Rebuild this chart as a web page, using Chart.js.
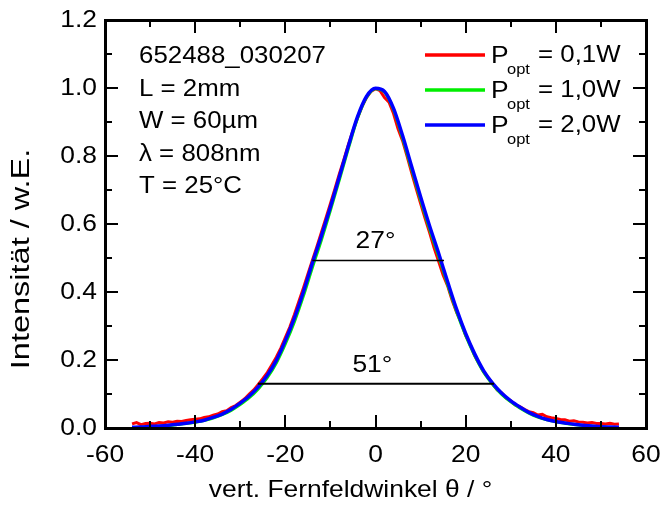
<!DOCTYPE html>
<html><head><meta charset="utf-8">
<script src="https://cdn.jsdelivr.net/npm/chart.js@4/dist/chart.umd.min.js"></script>
<style>html,body{margin:0;padding:0;background:#fff}#wrap{width:665px;height:506px;position:relative}</style>
</head><body><div id="wrap"><canvas id="c" width="665" height="506"></canvas></div>
<script>
// ---- data ----
const anglesFine = [-54,-53,-52,-51,-50,-49,-48,-47,-46,-45,-44,-43,-42,-41,-40,-39,-38,-37,-36,-35,-34,-33,-32,-31,-30,-29,-28,-27,-26,-25,-24,-23,-22,-21,-20,-19,-18,-17,-16,-15,-14,-13,-12,-11,-10,-9,-8,-7,-6,-5,-4,-3,-2,-1,0,1,2,3,4,5,6,7,8,9,10,11,12,13,14,15,16,17,18,19,20,21,22,23,24,25,26,27,28,29,30,31,32,33,34,35,36,37,38,39,40,41,42,43,44,45,46,47,48,49,50,51,52,53,54];
const red01W = [0.012,0.016,0.010,0.013,0.014,0.012,0.016,0.015,0.018,0.017,0.020,0.019,0.022,0.024,0.026,0.027,0.031,0.033,0.038,0.041,0.048,0.051,0.060,0.066,0.076,0.086,0.100,0.112,0.128,0.145,0.163,0.185,0.208,0.235,0.266,0.297,0.333,0.372,0.411,0.452,0.493,0.533,0.575,0.617,0.660,0.703,0.748,0.790,0.834,0.874,0.912,0.945,0.972,0.990,0.998,0.992,0.972,0.958,0.925,0.880,0.845,0.800,0.752,0.706,0.661,0.617,0.575,0.530,0.490,0.450,0.418,0.376,0.340,0.310,0.272,0.245,0.213,0.189,0.165,0.148,0.130,0.112,0.103,0.088,0.080,0.068,0.063,0.055,0.048,0.045,0.038,0.040,0.033,0.030,0.028,0.025,0.024,0.020,0.021,0.018,0.017,0.015,0.016,0.013,0.013,0.012,0.014,0.011,0.012];
const anglesCoarse = [-54,-52,-50,-48,-46,-44,-42,-40,-38,-36,-34,-32,-30,-28,-26,-24,-22,-20,-18,-16,-14,-12,-10,-8,-6,-4,-2,0,2,4,6,8,10,12,14,16,18,20,22,24,26,28,30,32,34,36,38,40,42,44,46,48,50,52,54];
const green10W = [0.001,0.002,0.004,0.005,0.007,0.010,0.013,0.017,0.022,0.029,0.039,0.052,0.069,0.089,0.115,0.148,0.191,0.247,0.312,0.388,0.472,0.553,0.640,0.731,0.823,0.910,0.972,0.998,0.988,0.936,0.853,0.762,0.671,0.585,0.505,0.422,0.342,0.272,0.213,0.164,0.128,0.099,0.077,0.059,0.044,0.032,0.024,0.018,0.014,0.010,0.007,0.005,0.004,0.002,0.001];
const blue20W = [0.002,0.003,0.005,0.006,0.008,0.011,0.014,0.018,0.023,0.031,0.041,0.055,0.073,0.094,0.121,0.155,0.199,0.257,0.323,0.400,0.485,0.565,0.650,0.740,0.830,0.915,0.975,0.999,0.990,0.940,0.860,0.770,0.680,0.594,0.514,0.430,0.349,0.278,0.218,0.168,0.131,0.102,0.080,0.062,0.046,0.034,0.025,0.019,0.015,0.011,0.008,0.006,0.004,0.003,0.002];
const seriesNames = ['0,1W','1,0W','2,0W'];
const seriesColors = ['#ff0000','#00ee00','#0000ff'];
const fwhmX = [-14.0, 15.2];  const fwhmY = [0.493, 0.493];
const e2X = [-26.1, 26.3];    const e2Y = [0.130, 0.130];
const widthLabels = [{x:0, y:0.55, t:'27°'}, {x:-0.7, y:0.185, t:'51°'}];
const infoLines = ['652488_030207','L = 2mm','W = 60µm','λ = 808nm','T = 25°C'];
const xTitle = 'vert. Fernfeldwinkel θ / °';
const yTitle = 'Intensität / w.E.';

const pts = (xs, ys) => xs.map((x,i)=>({x, y:ys[i]}));
const FONT = '"Liberation Sans", Arial, sans-serif';
const SX = 1.1;

function txt(ctx, s, x, y, size, align, base, sx){
  ctx.save();
  ctx.translate(x, y);
  ctx.scale(sx||SX, 1);
  ctx.font = size + 'px ' + FONT;
  ctx.textAlign = align || 'left';
  ctx.textBaseline = base || 'middle';
  ctx.fillStyle = '#000';
  ctx.fillText(s, 0, 0);
  ctx.restore();
}

const decor = {
  id: 'decor',
  afterDraw(chart){
    const ctx = chart.ctx, a = chart.chartArea;
    const xs = chart.scales.x, ys = chart.scales.y;
    const L0 = Math.round(a.left), R0 = Math.round(a.right), T0 = Math.round(a.top), B0 = Math.round(a.bottom);
    widthLabels.forEach(l => txt(ctx, l.t, xs.getPixelForValue(l.x), ys.getPixelForValue(l.y), 24, 'center', 'middle'));
    ctx.save();
    ctx.globalAlpha = 1;
    ctx.globalCompositeOperation = 'source-over';
    ctx.fillStyle = '#000000';
    // frame
    ctx.fillRect(L0 - 1, T0 - 1, R0 - L0 + 3, 3);
    ctx.fillRect(L0 - 1, B0 - 1, R0 - L0 + 3, 3);
    ctx.fillRect(L0 - 1, T0 - 1, 3, B0 - T0 + 3);
    ctx.fillRect(R0 - 1, T0 - 1, 3, B0 - T0 + 3);
    // ticks (inward, all sides)
    for (let v = -60; v <= 60; v += 10) {
      const p = Math.round(xs.getPixelForValue(v));
      const L = (v % 20 === 0) ? 13 : 7;
      ctx.fillRect(p - 1, B0 - L, 2, L);
      ctx.fillRect(p - 1, T0, 2, L);
    }
    for (let k = 0; k <= 12; k++) {
      const p = Math.round(ys.getPixelForValue(k/10));
      const L = (k % 2 === 0) ? 13 : 7;
      ctx.fillRect(L0, p - 1, L, 2);
      ctx.fillRect(R0 - L, p - 1, L, 2);
    }
    ctx.restore();
    xs.ticks.forEach(t => txt(ctx, String(t.value), xs.getPixelForValue(t.value), B0 + 27, 24, 'center', 'middle'));
    ys.ticks.forEach(t => txt(ctx, t.value.toFixed(1), L0 - 8, ys.getPixelForValue(t.value), 24, 'right', 'middle'));
    txt(ctx, xTitle, (L0 + R0)/2 - 25, 490, 24, 'center', 'middle');
    ctx.save();
    ctx.translate(22, 259);
    ctx.rotate(-Math.PI/2);
    ctx.scale(1.3, 1.0);
    ctx.font = '25px ' + FONT; ctx.textAlign = 'center'; ctx.textBaseline = 'middle'; ctx.fillStyle = '#000';
    ctx.fillText(yTitle, 0, 0);
    ctx.restore();
    infoLines.forEach((s, i) => txt(ctx, s, 139, 57 + i*32.5, 23.5, 'left', 'middle'));
    seriesNames.forEach((n, i) => {
      const y = 55 + i*35;
      ctx.save();
      ctx.strokeStyle = seriesColors[i]; ctx.lineWidth = 3.5;
      ctx.beginPath(); ctx.moveTo(425, y); ctx.lineTo(485, y); ctx.stroke();
      ctx.restore();
      txt(ctx, 'P', 491, y + 1, 24, 'left', 'middle');
      txt(ctx, 'opt', 507, y + 15, 15, 'left', 'middle');
      txt(ctx, '= ' + n, 538, y + 1, 23.5, 'left', 'middle');
    });
  }
};

const frameBorder = {display: true, color: '#000', width: 3};
new Chart(document.getElementById('c'), {
  type: 'line',
  data: {
    datasets: [
      {label: 'P opt = ' + seriesNames[0], data: pts(anglesFine, red01W), borderColor: seriesColors[0], borderWidth: 3, pointRadius: 0, tension: 0, order: 3},
      {label: 'P opt = ' + seriesNames[1], data: pts(anglesCoarse, green10W), borderColor: seriesColors[1], borderWidth: 3, pointRadius: 0, cubicInterpolationMode: 'monotone', order: 2},
      {label: 'P opt = ' + seriesNames[2], data: pts(anglesCoarse, blue20W), borderColor: seriesColors[2], borderWidth: 3.5, pointRadius: 0, cubicInterpolationMode: 'monotone', order: 1},
      {label: 'FWHM', data: pts(fwhmX, fwhmY), borderColor: '#000', borderWidth: 1.5, pointRadius: 0, order: 0},
      {label: '1/e2', data: pts(e2X, e2Y), borderColor: '#000', borderWidth: 2, pointRadius: 0, order: 0}
    ]
  },
  options: {
    responsive: false, animation: false, devicePixelRatio: 1,
    layout: {padding: {top: 20, right: 19, left: 0, bottom: 0}},
    plugins: {legend: {display: false}, tooltip: {enabled: false}},
    scales: {
      x: {type: 'linear', position: 'bottom', min: -60, max: 60, ticks: {stepSize: 20, display: false}, grid: {display: false}, border: frameBorder,
          afterFit: s => { s.height = 78; }},
      x2: {type: 'linear', position: 'top', min: -60, max: 60, ticks: {display: false}, grid: {display: false}, border: frameBorder,
          afterFit: s => { s.height = 0; }},
      y: {type: 'linear', position: 'left', min: 0, max: 1.2, ticks: {stepSize: 0.2, display: false}, grid: {display: false}, border: frameBorder,
          afterFit: s => { s.width = 105; }},
      y2: {type: 'linear', position: 'right', min: 0, max: 1.2, ticks: {display: false}, grid: {display: false}, border: frameBorder,
          afterFit: s => { s.width = 0; }}
    }
  },
  plugins: [decor]
});
</script></body></html>
